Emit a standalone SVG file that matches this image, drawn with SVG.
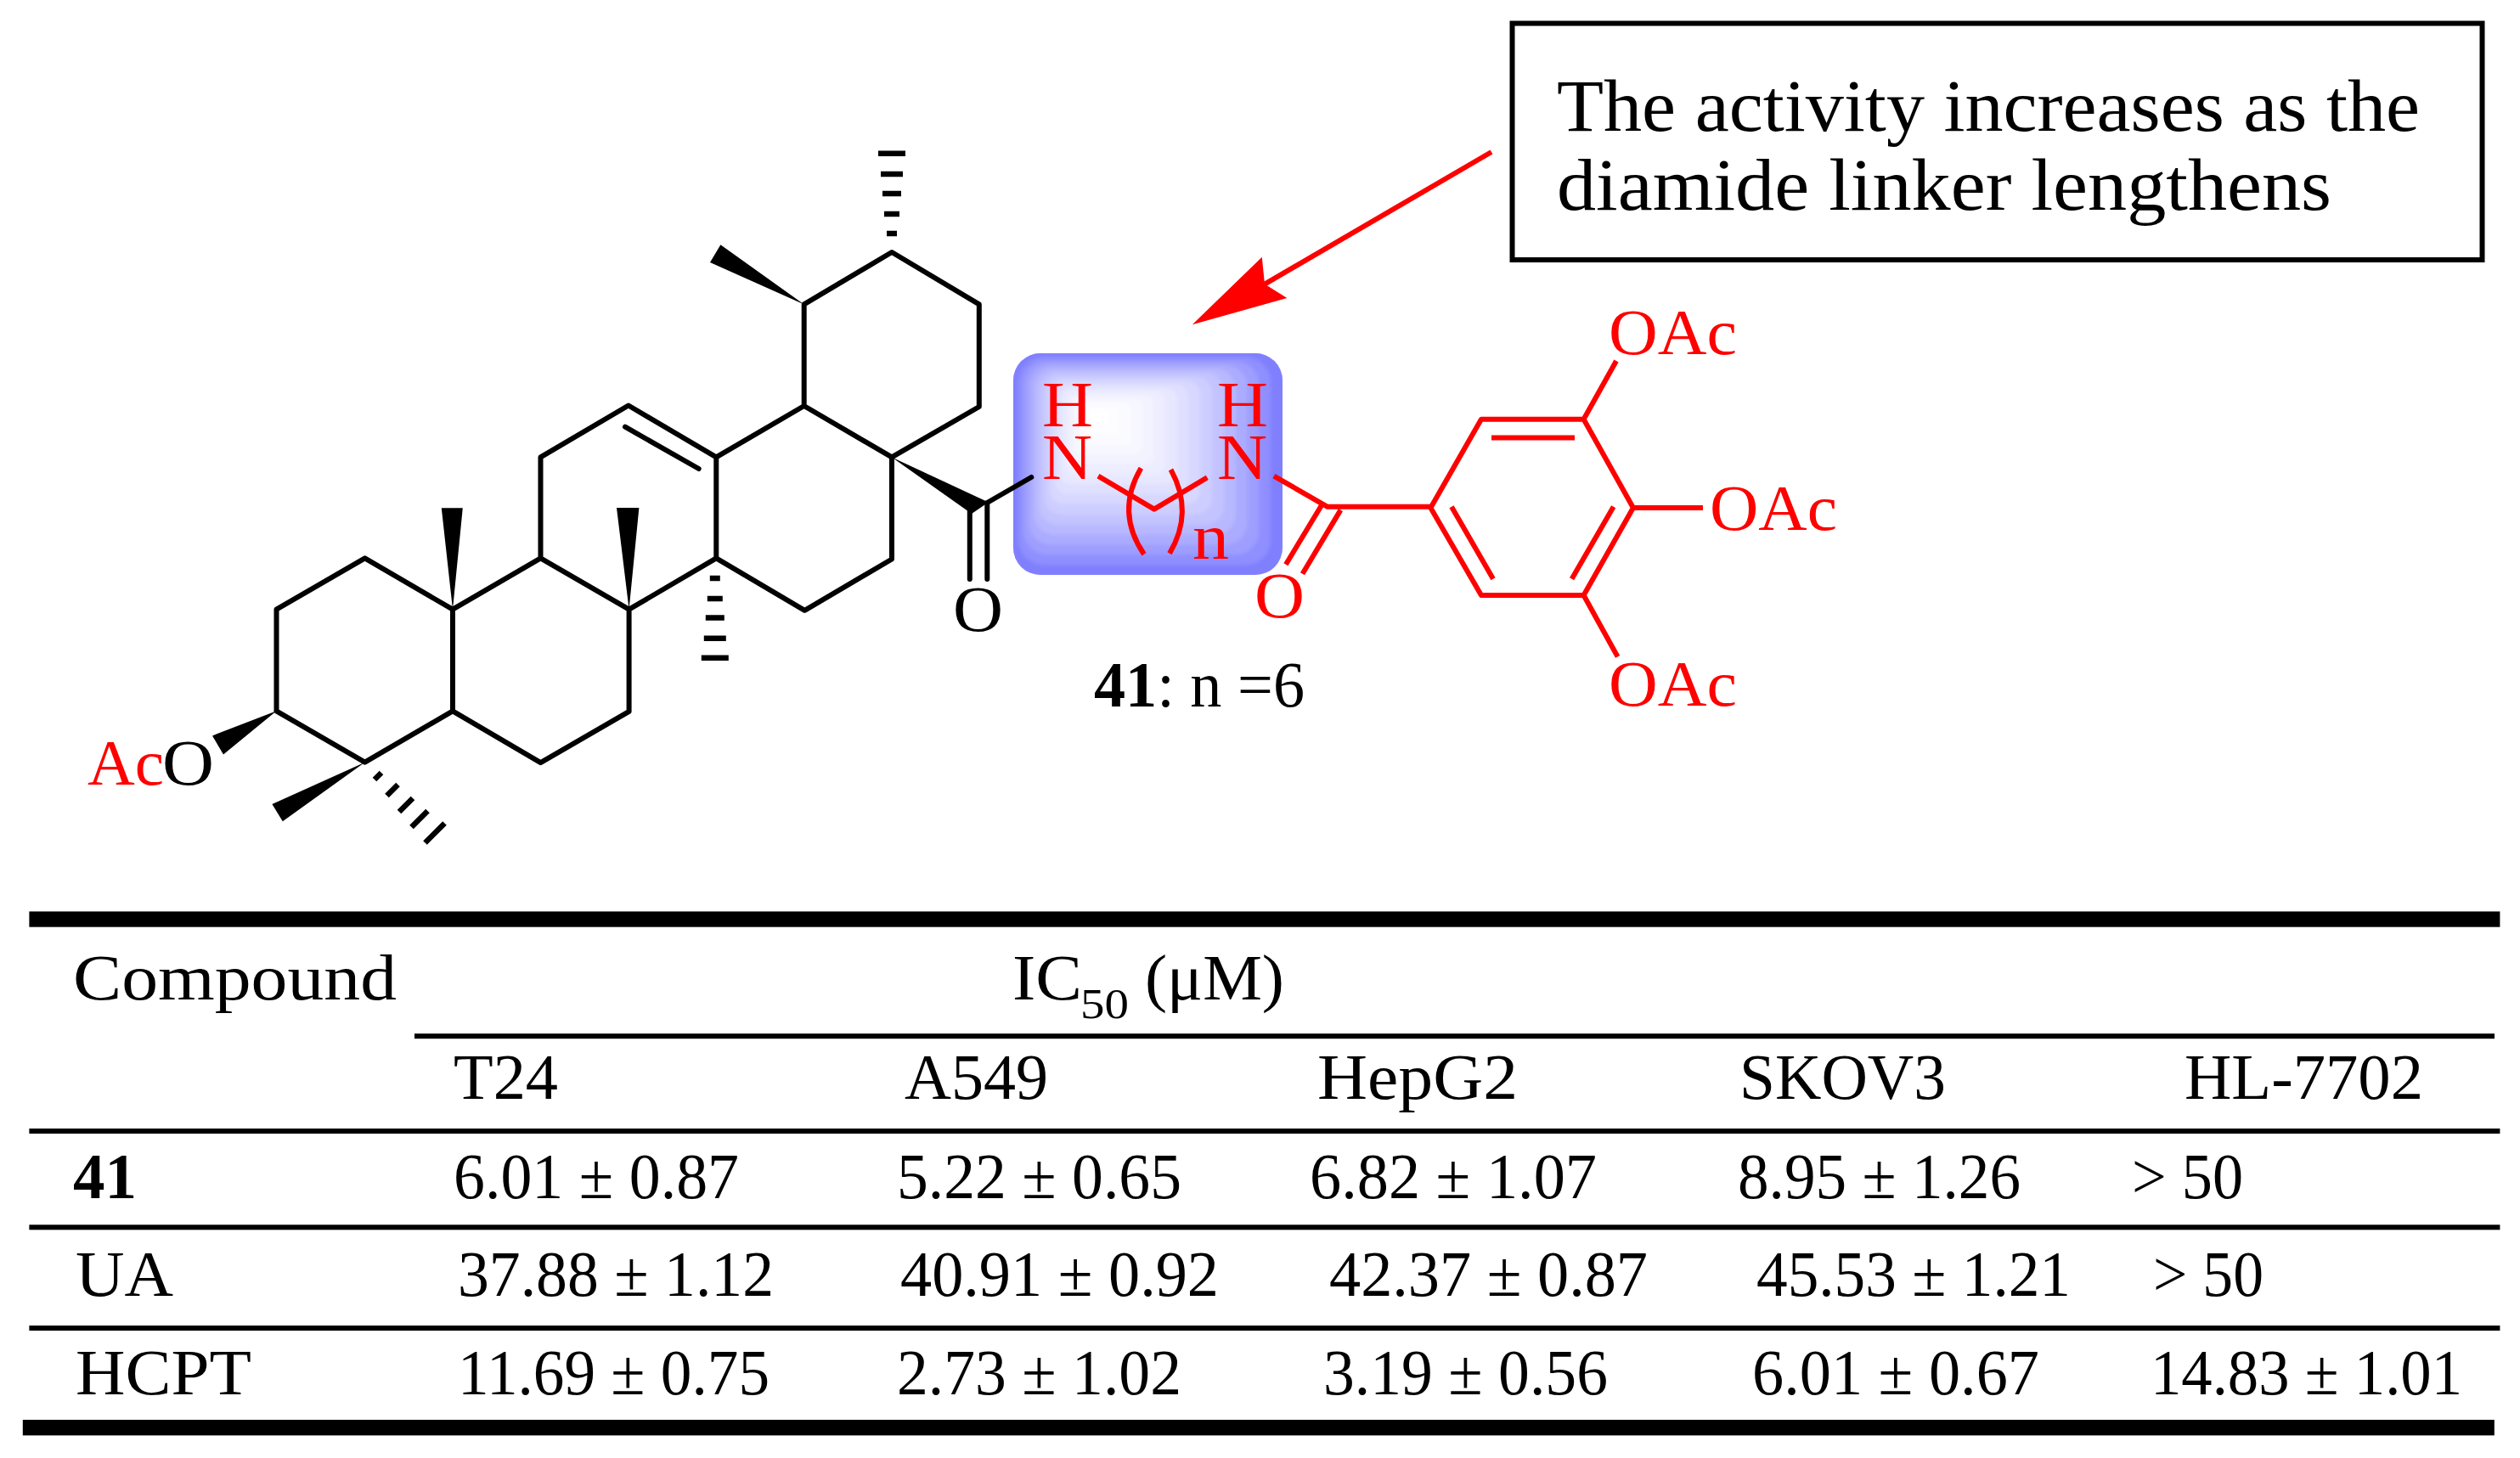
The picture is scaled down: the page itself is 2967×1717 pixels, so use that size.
<svg xmlns="http://www.w3.org/2000/svg" width="2967" height="1717" viewBox="0 0 2967 1717">
<style>
text{font-family:"Liberation Serif","Times New Roman",serif;fill:#000;font-size:76px}
.r{fill:#f00}
.b{font-weight:bold}
.k{fill:none;stroke:#000;stroke-width:6;stroke-linejoin:round;stroke-linecap:round}
.rd{fill:none;stroke:#f00;stroke-width:6;stroke-linejoin:round}
.h{stroke:#000;stroke-width:6.5;fill:none}
.w{fill:#000;stroke:none}
.tb{fill:#000;stroke:none}
.big{font-size:87px}
.sub{font-size:50px}
</style>
<defs>
<rect id="hl" x="1193" y="416" width="317" height="261" rx="32"/>
<clipPath id="hlClip"><use href="#hl"/></clipPath>
<filter id="soft" x="-5%" y="-5%" width="110%" height="110%"><feGaussianBlur stdDeviation="2"/></filter>
</defs>
<rect width="2967" height="1717" fill="#fff"/>
<g id="linker-highlight">
<use href="#hl" fill="#8080ff"/>
<g clip-path="url(#hlClip)"><g filter="url(#soft)">
<use href="#hl" fill="#8080ff"/>
<use href="#hl" fill="#8f8fff" transform="translate(1290 488) scale(.9375) translate(-1290 -488)"/>
<use href="#hl" fill="#9e9eff" transform="translate(1290 488) scale(.875) translate(-1290 -488)"/>
<use href="#hl" fill="#ababff" transform="translate(1290 488) scale(.8125) translate(-1290 -488)"/>
<use href="#hl" fill="#b8b8ff" transform="translate(1290 488) scale(.75) translate(-1290 -488)"/>
<use href="#hl" fill="#c3c3ff" transform="translate(1290 488) scale(.6875) translate(-1290 -488)"/>
<use href="#hl" fill="#cdcdff" transform="translate(1290 488) scale(.625) translate(-1290 -488)"/>
<use href="#hl" fill="#d7d7ff" transform="translate(1290 488) scale(.5625) translate(-1290 -488)"/>
<use href="#hl" fill="#dfdfff" transform="translate(1290 488) scale(.5) translate(-1290 -488)"/>
<use href="#hl" fill="#e7e7ff" transform="translate(1290 488) scale(.4375) translate(-1290 -488)"/>
<use href="#hl" fill="#ededff" transform="translate(1290 488) scale(.375) translate(-1290 -488)"/>
<use href="#hl" fill="#f3f3ff" transform="translate(1290 488) scale(.3125) translate(-1290 -488)"/>
<use href="#hl" fill="#f7f7ff" transform="translate(1290 488) scale(.25) translate(-1290 -488)"/>
<use href="#hl" fill="#fbfbff" transform="translate(1290 488) scale(.1875) translate(-1290 -488)"/>
<use href="#hl" fill="#fdfdff" transform="translate(1290 488) scale(.125) translate(-1290 -488)"/>
<use href="#hl" fill="#ffffff" transform="translate(1290 488) scale(.0625) translate(-1290 -488)"/>
</g></g>
</g>
<g id="triterpene-core">
<path class="k" d="M325.5 837.3V717.7L429.6 657.4 533 717.7 636.5 657.4 740.6 717.7 843.3 657.4V538.4L739.9 477.5 636.5 538.4V657.4M533 717.7V837.3L429.6 897.7 325.5 837.3M533 837.3L636.5 898.2 740.6 837.9V717.7M843.3 538.4L946.7 478 1050 538.4V658.5L947.4 718.8 843.3 657.4M946.7 478V358.4L1050 297 1152.8 358.4V479L1050 538.4M736 502.7L822.7 552"/>
<path class="w" d="M533 717.7L519.8 598.2H544.8ZM740.6 717.7L726 598H752.4ZM946.7 358.4L848.4 288.2 836 309ZM1050 538.4L1144 605 1163.8 591.6ZM325.5 837.3L250 866.4 263 888.4ZM429.6 897.7L320.4 947 332.8 967.3Z"/>
<path class="h" d="M1044 275H1056M1041 252H1059M1039 227.9H1061M1037 204.9H1063M1034 180.7H1066M835.8 681H847.8M832.8 705H850.8M830.8 727.6H852.8M828.8 751.7H854.8M825.8 774.8H857.8M441 918L449 910M455.5 937L468.5 924M470 956L486 940M484.5 974L503.5 955M500.5 992.5L523.5 969.5"/>
<path class="k" d="M1214.3 562L1162.3 592M1141.8 600V682M1162.3 592V682"/>
<text x="103" y="923.5" class="r" textLength="90" lengthAdjust="spacingAndGlyphs">Ac</text>
<text x="191" y="923.5" textLength="61" lengthAdjust="spacingAndGlyphs">O</text>
<text x="1122" y="743" textLength="59" lengthAdjust="spacingAndGlyphs">O</text>
</g>
<g id="gallate-linker">
<path class="rd" d="M1293 560.6L1358.9 599.6 1421.3 562.3M1499.9 560.6L1563 596.8H1684.4M1556 595L1513.9 664.8M1578.4 600.6L1533.5 675.8M1684.4 598L1744 493.7H1864.6L1922.9 598 1864.6 701H1744L1684.4 598M1756 515.6H1854M1709 596.8L1758 681.8M1899.7 596.8L1850.6 681.8M1864.6 493.7L1903 425M1922.9 598H2005M1864.6 701L1904.6 773.4"/>
<path class="rd" d="M1343.4 551.3Q1313 603 1347 652.8M1378.5 553Q1406 603 1377 651.7"/>
<text class="r" x="1227" y="502" textLength="60" lengthAdjust="spacingAndGlyphs">H</text>
<text class="r" x="1227" y="564" textLength="59" lengthAdjust="spacingAndGlyphs">N</text>
<text class="r" x="1433" y="502" textLength="60" lengthAdjust="spacingAndGlyphs">H</text>
<text class="r" x="1433" y="564" textLength="59" lengthAdjust="spacingAndGlyphs">N</text>
<text class="r" x="1404" y="658" textLength="43" lengthAdjust="spacingAndGlyphs">n</text>
<text class="r" x="1477" y="727" textLength="59" lengthAdjust="spacingAndGlyphs">O</text>
<text class="r" x="1894" y="417" textLength="151" lengthAdjust="spacingAndGlyphs">OAc</text>
<text class="r" x="2013" y="624" textLength="150" lengthAdjust="spacingAndGlyphs">OAc</text>
<text class="r" x="1894" y="831" textLength="151" lengthAdjust="spacingAndGlyphs">OAc</text>
</g>
<g id="compound-label"><text x="1288" y="832" textLength="248" lengthAdjust="spacingAndGlyphs"><tspan class="b">41</tspan>: n =6</text></g>
<g id="callout">
<rect x="1780.5" y="27.5" width="1142" height="278.5" fill="none" stroke="#000" stroke-width="6"/>
<text class="big" x="1833" y="154" textLength="1016" lengthAdjust="spacingAndGlyphs">The activity increases as the</text>
<text class="big" x="1833" y="247" textLength="912" lengthAdjust="spacingAndGlyphs">diamide linker lengthens</text>
</g>
<g id="connectors">
<path d="M1756 179L1489 334.6" fill="none" stroke="#f00" stroke-width="6"/>
<path d="M1403.8 382.3L1485.8 302.8 1489 334.6 1515.3 351Z" fill="#f00"/>
</g>
<g id="table">
<rect class="tb" x="34.4" y="1073.4" width="2909" height="18.3"/>
<rect class="tb" x="488" y="1217.2" width="2449" height="6"/>
<rect class="tb" x="34.4" y="1329" width="2909" height="6"/>
<rect class="tb" x="34.4" y="1442.3" width="2909" height="6"/>
<rect class="tb" x="34.4" y="1561" width="2909" height="6"/>
<rect class="tb" x="26.8" y="1672" width="2910" height="18.4"/>
<text x="86" y="1177" textLength="381" lengthAdjust="spacingAndGlyphs">Compound</text>
<text x="1192" y="1177" textLength="82" lengthAdjust="spacingAndGlyphs">IC</text>
<text class="sub" x="1272" y="1199" textLength="57" lengthAdjust="spacingAndGlyphs">50</text>
<text x="1348" y="1177" textLength="164" lengthAdjust="spacingAndGlyphs">(μM)</text>
<text x="534" y="1294" textLength="123" lengthAdjust="spacingAndGlyphs">T24</text>
<text x="1065" y="1294" textLength="169" lengthAdjust="spacingAndGlyphs">A549</text>
<text x="1551" y="1294" textLength="236" lengthAdjust="spacingAndGlyphs">HepG2</text>
<text x="2048" y="1294" textLength="243" lengthAdjust="spacingAndGlyphs">SKOV3</text>
<text x="2572" y="1294" textLength="281" lengthAdjust="spacingAndGlyphs">HL-7702</text>
<text x="86" y="1411" class="b" textLength="75" lengthAdjust="spacingAndGlyphs">41</text>
<text x="534" y="1411" textLength="336" lengthAdjust="spacingAndGlyphs">6.01 ± 0.87</text>
<text x="1056" y="1411" textLength="335" lengthAdjust="spacingAndGlyphs">5.22 ± 0.65</text>
<text x="1542" y="1411" textLength="338" lengthAdjust="spacingAndGlyphs">6.82 ± 1.07</text>
<text x="2046" y="1411" textLength="333" lengthAdjust="spacingAndGlyphs">8.95 ± 1.26</text>
<text x="2510" y="1411" textLength="131" lengthAdjust="spacingAndGlyphs">&gt; 50</text>
<text x="89" y="1526" textLength="115" lengthAdjust="spacingAndGlyphs">UA</text>
<text x="539" y="1526" textLength="372" lengthAdjust="spacingAndGlyphs">37.88 ± 1.12</text>
<text x="1060" y="1526" textLength="375" lengthAdjust="spacingAndGlyphs">40.91 ± 0.92</text>
<text x="1565" y="1526" textLength="375" lengthAdjust="spacingAndGlyphs">42.37 ± 0.87</text>
<text x="2068" y="1526" textLength="370" lengthAdjust="spacingAndGlyphs">45.53 ± 1.21</text>
<text x="2535" y="1526" textLength="130" lengthAdjust="spacingAndGlyphs">&gt; 50</text>
<text x="89" y="1642" textLength="207" lengthAdjust="spacingAndGlyphs">HCPT</text>
<text x="539" y="1642" textLength="367" lengthAdjust="spacingAndGlyphs">11.69 ± 0.75</text>
<text x="1056" y="1642" textLength="335" lengthAdjust="spacingAndGlyphs">2.73 ± 1.02</text>
<text x="1558" y="1642" textLength="335" lengthAdjust="spacingAndGlyphs">3.19 ± 0.56</text>
<text x="2063" y="1642" textLength="338" lengthAdjust="spacingAndGlyphs">6.01 ± 0.67</text>
<text x="2532" y="1642" textLength="367" lengthAdjust="spacingAndGlyphs">14.83 ± 1.01</text>
</g>
</svg>
